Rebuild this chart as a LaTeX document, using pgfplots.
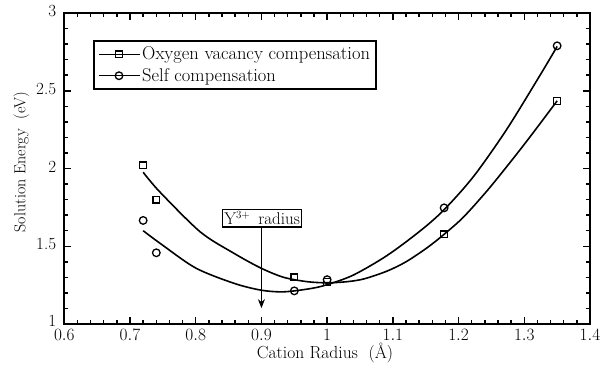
\documentclass[border=0pt]{standalone}
\usepackage{pgfplots}
\pgfplotsset{compat=1.18}
\usetikzlibrary{arrows.meta}
\pgfplotsset{mylegend/.style={legend image code/.code={%
  \draw[black,line width=1.4pt] (0pt,0pt) -- (41pt,0pt);
  \draw[##1] plot coordinates {(20.5pt,0pt)};}}}

\begin{document}
\begin{tikzpicture}
\path[use as bounding box] (-64.3pt,-43pt) rectangle (544.7pt,324pt);
\begin{axis}[
  scale only axis, width=525.7pt, height=311pt,
  xmin=0.6, xmax=1.4, ymin=1, ymax=3,
  xtick={0.6,0.7,0.8,0.9,1.0,1.1,1.2,1.3,1.4},
  ytick={1,1.5,2,2.5,3},
  yticklabels={\raisebox{3pt}{1},1.5,2,2.5,3},
  minor x tick num=4, minor y tick num=4,
  tick align=inside, major tick length=7pt, minor tick length=4pt,
  xtick style={black, line width=1.5pt},
  ytick style={black, line width=1.5pt},
  minor tick style={black, line width=1.5pt},
  axis line style={line width=2pt},
  tick label style={font=\fontsize{17}{20}\selectfont, inner sep=0pt},
  xticklabel style={yshift=-5pt},
  yticklabel style={xshift=-8pt, yshift=1.8pt},
  xlabel={Cation Radius\ \ (\AA)},
  ylabel={Solution Energy\ \ (eV)},
  xlabel style={font=\fontsize{17.5}{20}\selectfont, inner sep=0pt,
    at={(axis description cs:0.496,-0.1112)}, anchor=base},
  ylabel style={font=\fontsize{16}{19}\selectfont,
    at={(axis description cs:-0.0814,0.521)}, anchor=center},
  legend cell align=left,
  legend style={at={(0.0548,0.912)}, anchor=north west, draw=black,
    line width=1.4pt, font=\fontsize{18.5}{21}\selectfont,
    inner xsep=4pt, inner ysep=4pt, row sep=3pt},
]
% fitted curves
\addplot[smooth, line width=1.6pt, black, forget plot] coordinates {
(0.72,1.976) (0.745,1.851) (0.807,1.592) (0.858,1.455) (0.899,1.36)
(0.934,1.30) (0.97,1.272) (1.0,1.265) (1.03,1.272) (1.056,1.29)
(1.091,1.34) (1.12,1.40) (1.152,1.49) (1.178,1.577) (1.208,1.69)
(1.248,1.88) (1.299,2.15) (1.35,2.435)};
\addplot[smooth, line width=1.6pt, black, forget plot] coordinates {
(0.72,1.60) (0.747,1.515) (0.8,1.36) (0.858,1.262) (0.899,1.218)
(0.934,1.207) (0.975,1.228) (1.0,1.253) (1.04,1.315) (1.091,1.44)
(1.142,1.60) (1.178,1.735) (1.223,1.95) (1.273,2.25) (1.324,2.60)
(1.35,2.785)};
% data points
\addplot[only marks, black, mark=square, mark size=3.4pt, mark options={line width=1.3pt}, mylegend]
coordinates {(0.72,2.02) (0.74,1.80) (0.95,1.30) (1.0,1.27) (1.178,1.577) (1.35,2.435)};
\addlegendentry{Oxygen vacancy compensation}
\addplot[only marks, black, mark=o, mark size=3.8pt, mark options={line width=1.3pt}, mylegend]
coordinates {(0.72,1.666) (0.74,1.458) (0.95,1.213) (1.0,1.285) (1.178,1.747) (1.35,2.789)};
\addlegendentry{Self compensation}
% annotation
\node[draw, line width=1.2pt, anchor=south, inner xsep=2pt, inner ysep=2pt,
  font=\fontsize{17}{20}\selectfont] at (axis cs:0.901,1.62)
  {Y\textsuperscript{\fontsize{11}{11}\selectfont 3+}\ \,radius};
\draw[line width=1pt, -{Stealth[length=9pt,width=7pt]}] (axis cs:0.9,1.62) -- (axis cs:0.9,1.102);
\end{axis}
\end{tikzpicture}
\end{document}
